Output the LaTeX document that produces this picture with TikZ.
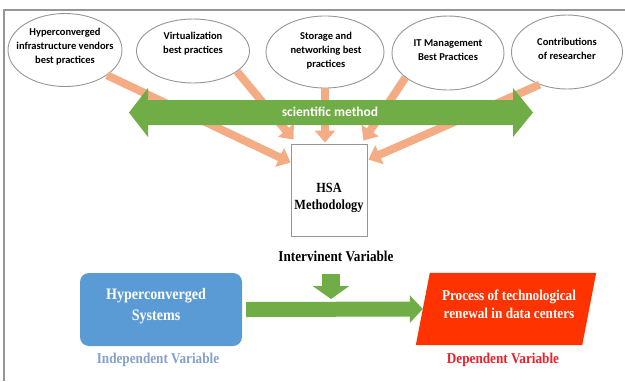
\documentclass[tikz,border=0pt]{standalone}
\usepackage{fontspec}
\setmainfont{Liberation Serif}
\newfontfamily\tnr{Liberation Serif}[FakeStretch=0.88]
\newfontfamily\calib{Carlito}
\usetikzlibrary{arrows.meta,shapes.geometric,calc}
\definecolor{orangeA}{RGB}{244,172,132}
\definecolor{greenA}{RGB}{112,173,71}
\definecolor{blueA}{RGB}{91,155,213}
\definecolor{redA}{RGB}{255,51,0}
\definecolor{indep}{RGB}{132,160,204}
\definecolor{dep}{RGB}{240,30,40}
\definecolor{frameC}{RGB}{150,150,150}
\begin{document}
\begin{tikzpicture}[x=1pt,y=-1pt,
  oval/.style={ellipse, draw=frameC, line width=0.9pt, fill=white, inner sep=0pt},
  ovaltext/.style={font=\calib\bfseries\fontsize{10.5}{14}\selectfont, align=center, inner sep=0pt},
  orarrow/.style={draw=orangeA, line width=8pt, -{Triangle[width=20pt,length=12pt]}},
  serifb/.style={font=\tnr\bfseries\fontsize{15}{18}\selectfont, align=center, inner sep=0pt}
]
\useasboundingbox (0,0) rectangle (625,381);
% frame
\draw[frameC, line width=1.2pt] (4,381) -- (4,10) -- (625,10);
% ellipses
\node[oval, minimum width=114pt, minimum height=73pt] (e1) at (65,50) {};
\node[oval, minimum width=113pt, minimum height=64pt] (e2) at (193,51) {};
\node[oval, minimum width=118pt, minimum height=72pt] (e3) at (325,52) {};
\node[oval, minimum width=112pt, minimum height=74pt] (e4) at (448,53) {};
\node[oval, minimum width=111pt, minimum height=74pt] (e5) at (567,52) {};
\node[ovaltext] (e1t) at (65,47) {Hyperconverged\\infrastructure vendors\\best practices};
\node[ovaltext] (e2t) at (193,44) {Virtualization\\best practices};
\node[ovaltext] (e3t) at (326,51) {Storage and\\networking best\\practices};
\node[ovaltext] (e4t) at (448,50) {IT Management\\Best Practices};
\node[ovaltext] (e5t) at (567,48.5) {Contributions\\of researcher};
% HSA box
\node[draw=frameC, line width=0.9pt, fill=white, minimum width=76pt, minimum height=92pt, inner sep=0pt] (hsa) at (329,190) {};
\node[serifb, font=\tnr\bfseries\fontsize{14}{17}\selectfont] (hsat) at (329,198) {HSA\\Methodology};
% orange arrows
\draw[orarrow] (e1.-31) -- ($(hsa.north west)+(0,19)$);
\draw[orarrow] (e2.-25) -- ($(hsa.north west)+(3,-4)$);
\draw[orarrow] (e3.south) -- ($(hsa.north)+(-4,-1)$);
\draw[orarrow] (e4.-150) -- ($(hsa.north east)+(-4,-3)$);
\draw[orarrow] (e5.-130) -- ($(hsa.north east)+(1,16)$);
% scientific method double arrow
\fill[greenA] (129,112.5) -- (148,88) -- (148,100) -- (513,100) -- (513,88) -- (533,112.5)
  -- (513,137) -- (513,125) -- (148,125) -- (148,137) -- cycle;
\node[font=\calib\bfseries\fontsize{13.5}{16}\selectfont, text=white, inner sep=0pt] (sm) at (330,112) {scientific method};
% intervinent
\node[serifb] (iv) at (336,256) {Intervinent Variable};
% bottom part
\node[rounded corners=9pt, fill=blueA, minimum width=162pt, minimum height=73pt, inner sep=0pt] (hs) at (161,309.5) {};
\node[serifb, text=white, font=\tnr\bfseries\fontsize{16}{21}\selectfont] (hst) at (156,306.5) {Hyperconverged\\Systems};
\node[minimum width=166pt, minimum height=72pt, inner sep=0pt] (dv) at (506,309) {};
\fill[redA] ($(dv.north west)+(7,0)$) -- ($(dv.north east)+(7,0)$) -- ($(dv.south east)+(-7,0)$) -- ($(dv.south west)+(-7,0)$) -- cycle;
\node[serifb, text=white] (dvt) at (509,304) {Process of technological\\renewal in data centers};
\draw[greenA, line width=15pt, -{Triangle[width=27pt,length=13pt]}] ($(hs.east)+(4,0)$) -- (dv.west);
\coordinate (dtop) at (331,274);
\coordinate (dbot) at (331,299);
\draw[greenA, line width=18pt, -{Triangle[width=36pt,length=13pt]}] (dtop) -- (dbot);
\node[serifb, text=indep] (indv) at (158,360) {Independent Variable};
\node[serifb, text=dep] (depv) at (503,360) {Dependent Variable};
\end{tikzpicture}
\end{document}
